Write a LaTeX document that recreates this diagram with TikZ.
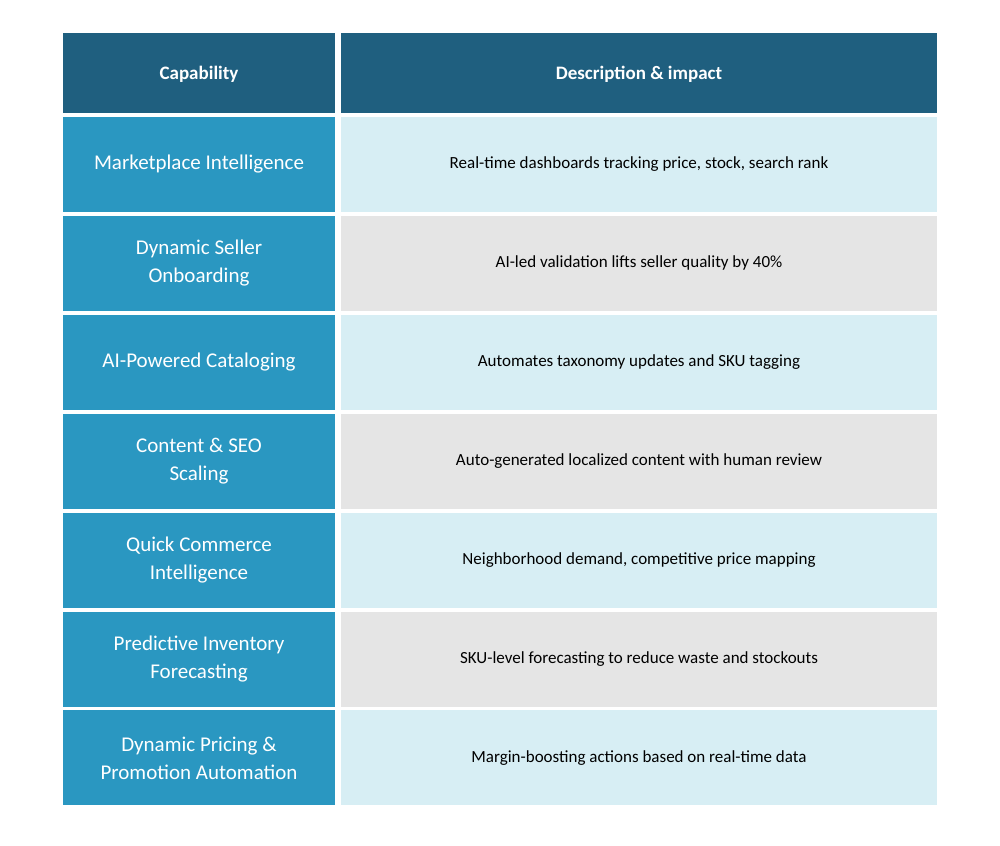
\documentclass[tikz,border=0pt]{standalone}
\usepackage{fontspec}
\setmainfont{Carlito}
\definecolor{headcolor}{HTML}{1F5F7F}
\definecolor{capcolor}{HTML}{2A97C1}
\definecolor{lightcolor}{HTML}{D7EEF4}
\definecolor{graycolor}{HTML}{E5E5E5}
\begin{document}
\begin{tikzpicture}[x=1pt,y=-1pt,
    headcell/.style={fill=headcolor, text=white, font=\fontsize{19}{22}\selectfont\bfseries},
    capcell/.style={fill=capcolor, text=white, align=center, font=\fontsize{21}{28}\selectfont},
    desccell/.style={text=black, font=\fontsize{17}{20}\selectfont}]

    % Page
    \useasboundingbox (0,0) rectangle (1000,845);

    % Header
    \fill[headcolor] (63,33) rectangle (335,113);
    \fill[headcolor] (341,33) rectangle (937,113);
    \node[headcell, fill=none] (hcap) at (199,74) {Capability};
    \node[headcell, fill=none] (hdesc) at (639,74) {Description \& impact};

    % Rows
    \foreach \i/\cap/\desc in {
        0/{Marketplace Intelligence}/{Real-time dashboards tracking price, stock, search rank},
        1/{Dynamic Seller\\Onboarding}/{AI-led validation lifts seller quality by 40\%},
        2/{AI-Powered Cataloging}/{Automates taxonomy updates and SKU tagging},
        3/{Content \& SEO\\Scaling}/{Auto-generated localized content with human review},
        4/{Quick Commerce\\Intelligence}/{Neighborhood demand, competitive price mapping},
        5/{Predictive Inventory\\Forecasting}/{SKU-level forecasting to reduce waste and stockouts},
        6/{Dynamic Pricing \&\\Promotion Automation}/{Margin-boosting actions based on real-time data}} {
        \pgfmathsetmacro{\top}{117+\i*98.9}
        \pgfmathsetmacro{\mid}{\top+47.5}
        \pgfmathtruncatemacro{\odd}{mod(\i,2)}
        \ifnum\odd=0 \def\rowcolor{lightcolor}\else\def\rowcolor{graycolor}\fi
        \fill[capcolor] (63,\top) rectangle (335,\top+95);
        \fill[\rowcolor] (341,\top) rectangle (937,\top+95);
        \node[capcell, fill=none] (cap\i) at (199,\mid) {\cap};
        \node[desccell] (desc\i) at (639,\mid) {\desc};
    }

\end{tikzpicture}
\end{document}
